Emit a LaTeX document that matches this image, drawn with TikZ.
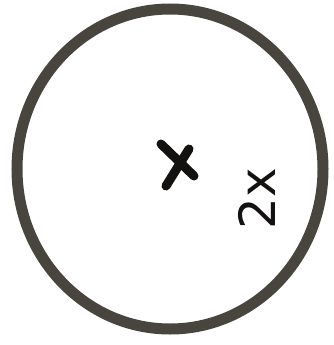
\documentclass[tikz,border=0pt]{standalone}
\usepackage{fontspec}
\setmainfont{DejaVu Sans}
\definecolor{ink}{RGB}{72,68,62}
\definecolor{darkink}{RGB}{20,18,16}
\tikzset{
  rim/.style={draw=ink, line width=11pt},
  cross/.style={draw=darkink, line width=9pt, line cap=round},
  label/.style={text=darkink, font=\fontsize{50}{50}\selectfont, rotate=90, inner sep=0pt}
}
\begin{document}
\begin{tikzpicture}[x=1pt,y=-1pt]
\useasboundingbox (0,0) rectangle (334,345);
\fill[white] (0,0) rectangle (334,345);
\draw[rim] (170,169) ellipse [x radius=153, y radius=160];
\coordinate (a1) at (161,144);
\coordinate (a2) at (194,176);
\coordinate (b1) at (189,149);
\coordinate (b2) at (166,186);
\draw[cross] (a1) -- (a2);
\draw[cross] (b1) -- (b2);
\node[label] (t) at (257,199) {2x};
\end{tikzpicture}
\end{document}
